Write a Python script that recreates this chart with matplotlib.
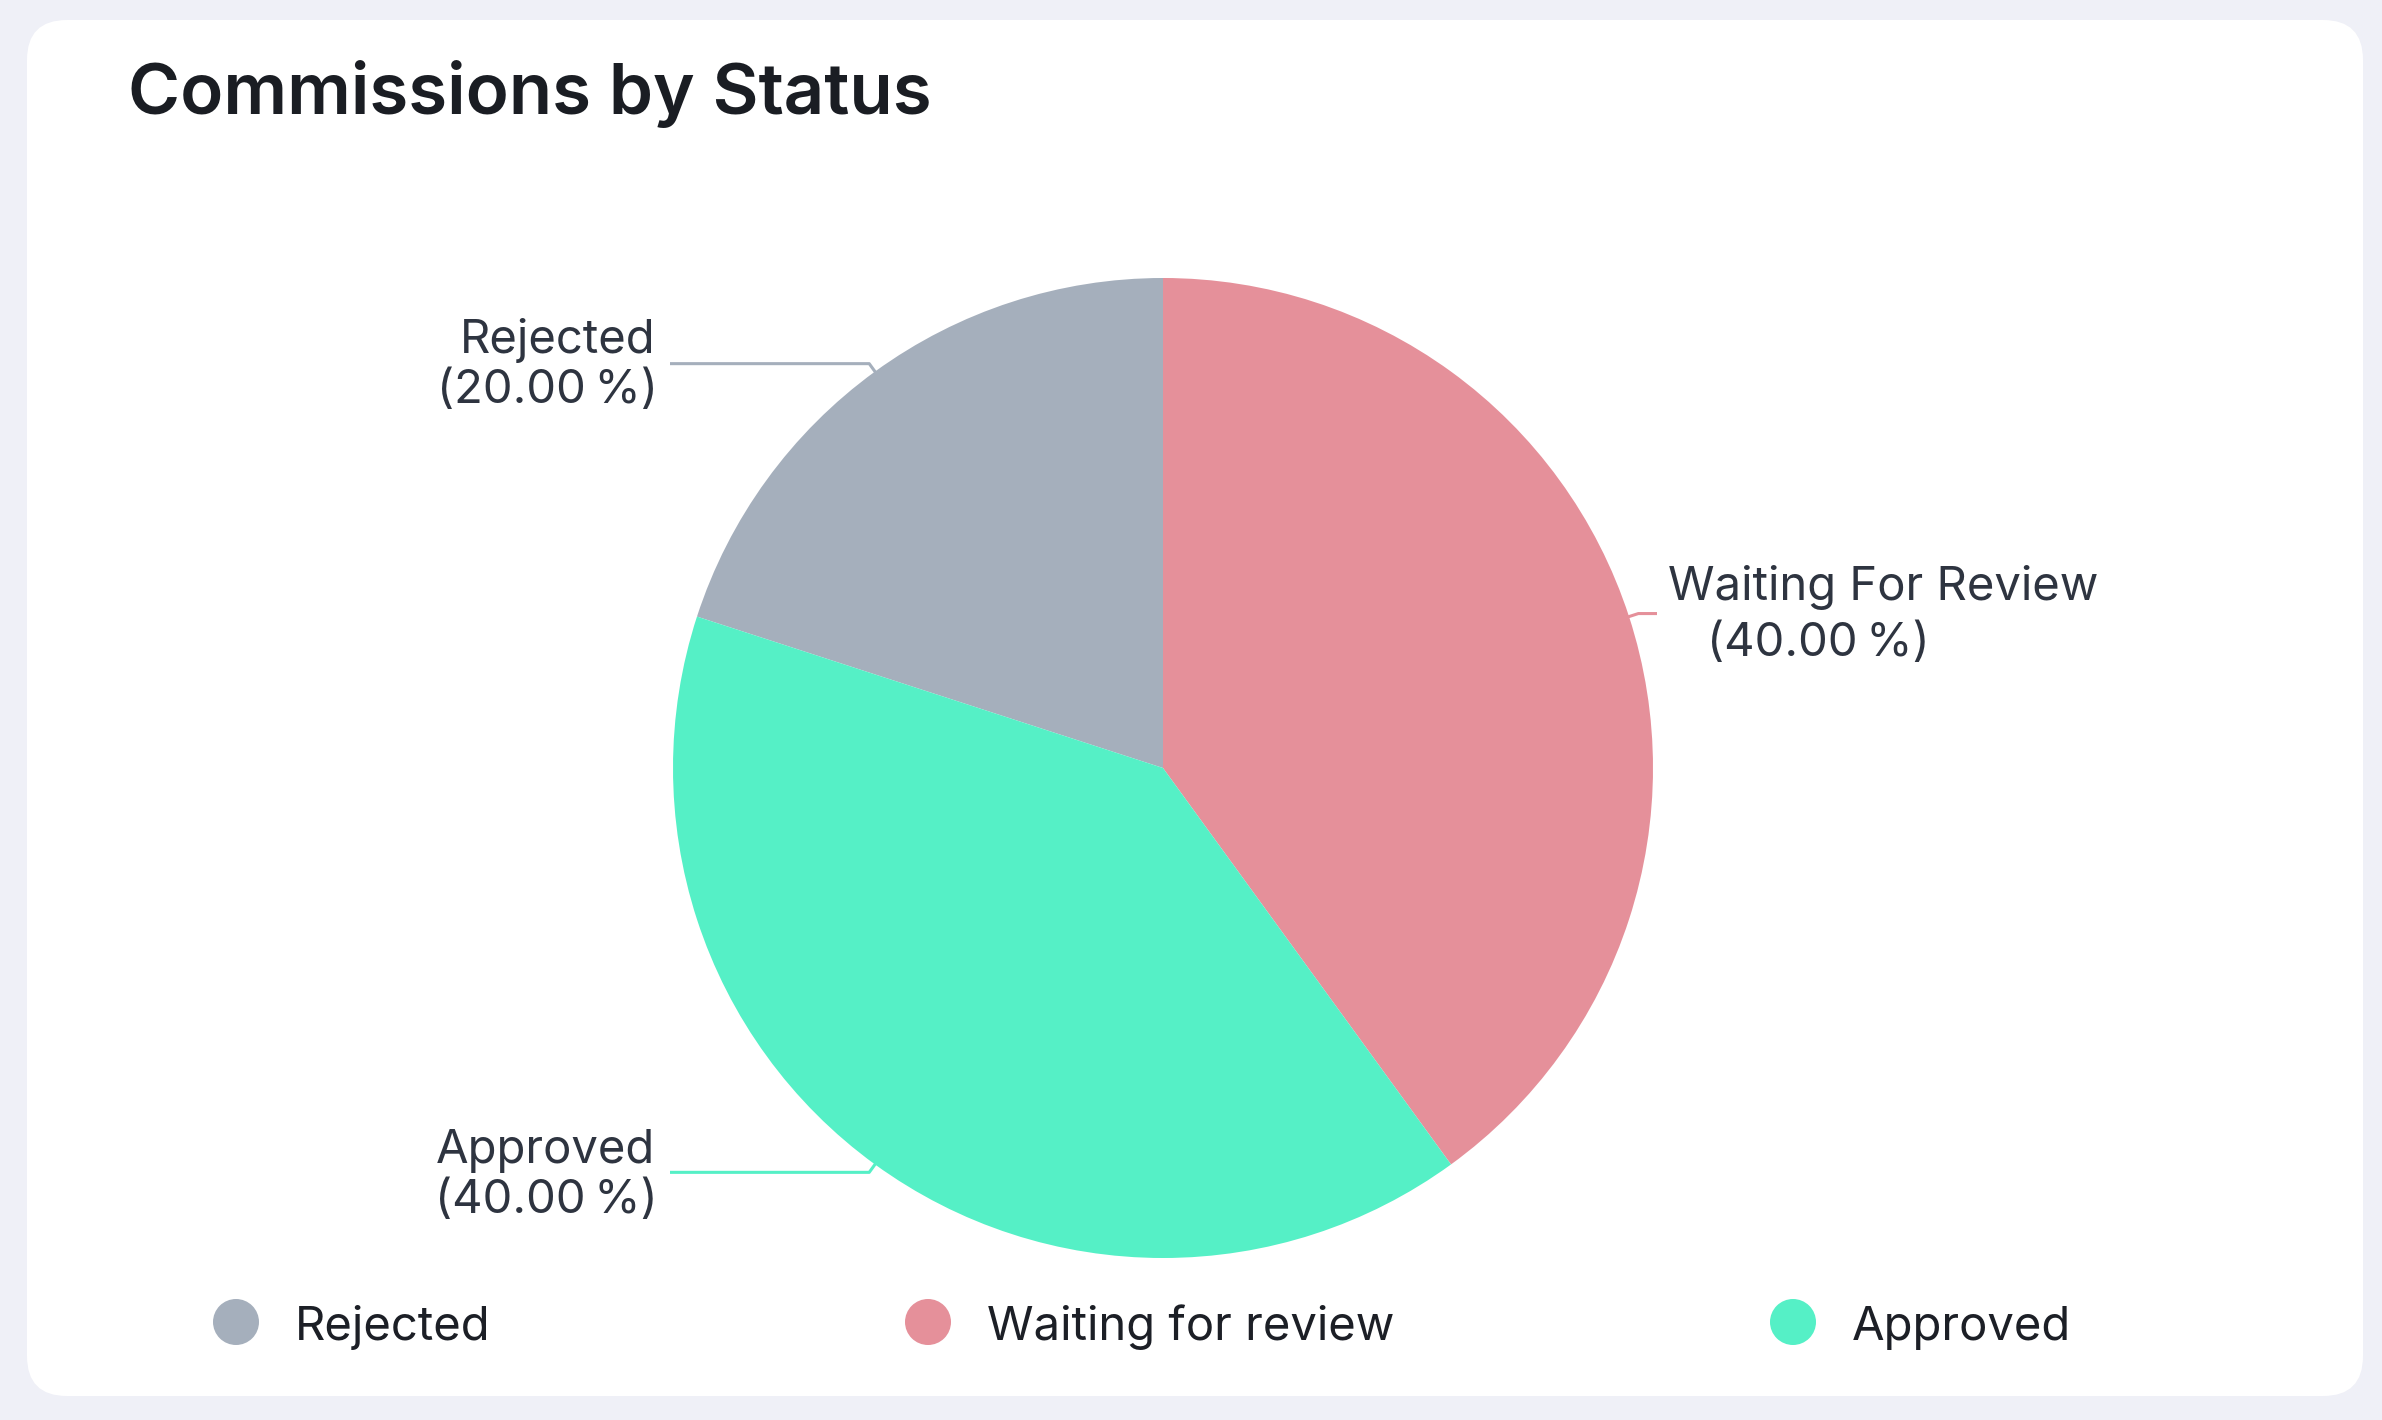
import matplotlib
matplotlib.use("Agg")
import matplotlib.pyplot as plt
from matplotlib.patches import FancyBboxPatch, Circle
import numpy as np

# ---- data ----
categories = ["Rejected", "Waiting for review", "Approved"]
slice_labels = ["Rejected", "Waiting For Review", "Approved"]
values = [20, 40, 40]
colors = ["#A5AFBC", "#E5909A", "#55F0C6"]
title = "Commissions by Status"

plt.rcParams['font.family'] = ['Inter', 'DejaVu Sans']

W, H = 2382, 1420
fig = plt.figure(figsize=(W / 100, H / 100), dpi=100)
fig.patch.set_facecolor("#EFF0F7")

# background axes in pixel coordinates
bg = fig.add_axes([0, 0, 1, 1])
bg.set_xlim(0, W)
bg.set_ylim(H, 0)
bg.axis("off")
card = FancyBboxPatch((27 + 40, 20 + 40), 2336 - 80, 1376 - 80,
                      boxstyle="round,pad=40", facecolor="white", edgecolor="none")
bg.add_patch(card)
bg.text(128, 114, title, fontsize=51, fontweight="semibold", color="#1A1D23",
        ha="left", va="baseline")

# pie axes
cx, cy, R = 1163, 768, 490
ax = fig.add_axes([(cx - R) / W, (H - cy - R) / H, 2 * R / W, 2 * R / H])
wedges, _ = ax.pie(values, colors=colors, startangle=162, counterclock=False,
                   wedgeprops=dict(linewidth=0))
ax.set_xlim(-1, 1)
ax.set_ylim(-1, 1)
ax.set_aspect("equal")
ax.axis("off")

total = sum(values)
label_color = "#2E3440"
# label layout (pixel coords)
layout = {
    0: dict(ha="right", end_px=670, l1=(655, 353), l2=(658, 403)),
    1: dict(ha="left", end_px=1657, l1=(1668, 600), l2=(1707, 656)),
    2: dict(ha="right", end_px=670, l1=(655, 1163), l2=(658, 1213)),
}
for i, w in enumerate(wedges):
    ang = np.deg2rad((w.theta1 + w.theta2) / 2)
    ex, ey = np.cos(ang) * 0.97, np.sin(ang) * 0.97
    bx, by = np.cos(ang) * 1.02, np.sin(ang) * 1.02
    endx = (layout[i]["end_px"] - cx) / R
    ax.plot([ex, bx, endx], [ey, by, by], color=colors[i], lw=2.2,
            solid_capstyle="butt", clip_on=False, zorder=0)
    pct = values[i] / total * 100
    lo = layout[i]
    bg.text(lo["l1"][0], lo["l1"][1], slice_labels[i], fontsize=34, color=label_color,
            ha=lo["ha"], va="baseline")
    bg.text(lo["l2"][0], lo["l2"][1], f"({pct:.2f}\u2009%)", fontsize=34, color=label_color,
            ha=lo["ha"], va="baseline")

# legend
leg_x = [236, 928, 1793]
for x, c, name in zip(leg_x, colors, categories):
    bg.add_patch(Circle((x, 1322), 23, facecolor=c, edgecolor="none"))
    bg.text(x + 59, 1340, name, fontsize=34, color="#1C1F26", ha="left", va="baseline")

fig.savefig("out.png", dpi=100, facecolor=fig.get_facecolor())
